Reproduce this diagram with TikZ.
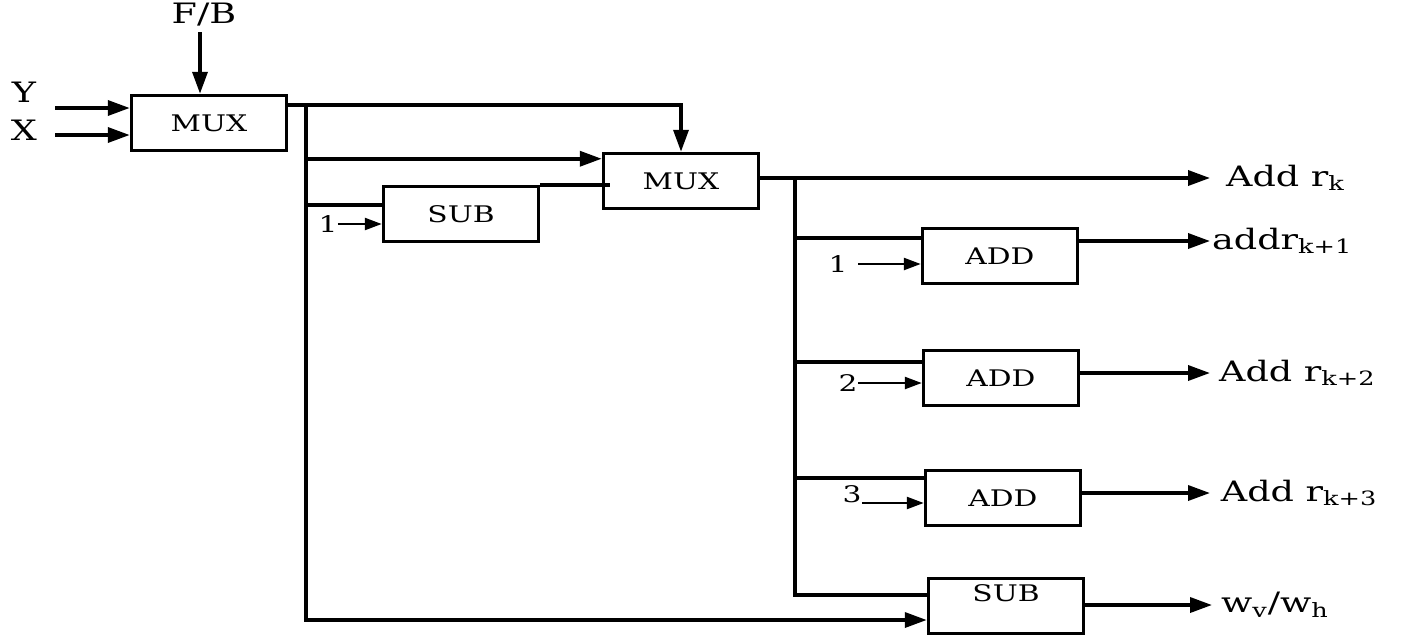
\documentclass[tikz,border=0pt]{standalone}
\usepackage{fontspec}
\setmainfont[FakeStretch=1.3]{DejaVu Serif}
\usetikzlibrary{arrows.meta, positioning, calc}

\begin{document}
\begin{tikzpicture}[
  x=0.02cm, y=-0.02cm,
  block/.style={rectangle, draw, line width=2pt, minimum width=3.1cm, minimum height=1.1cm, inner sep=0pt, font=\fontsize{13}{15}\selectfont},
  sig/.style={inner sep=0pt, font=\fontsize{16}{18}\selectfont},
  num/.style={inner sep=0pt, font=\fontsize{13}{15}\selectfont},
  outlbl/.style={sig, anchor=west},
  wire/.style={line width=2pt},
  >={Triangle[length=0.44cm, width=0.3cm]},
  small/.style={line width=1.4pt, -{Triangle[length=0.34cm, width=0.24cm]}}
]
\useasboundingbox (0,0) rectangle (1405,643);

% blocks
\node[block] (Mux1) at (209,123) {MUX};
\node[block] (Mux2) at (681,181) {MUX};
\node[block] (Sub1) at (461,214) {SUB};
\node[block] (Add1) at (1000,256) {ADD};
\node[block] (Add2) at (1001,378) {ADD};
\node[block] (Add3) at (1003,498) {ADD};
\node[block, align=center] (Sub2) at (1006,606) {SUB\\ \mbox{}};

% inputs of the first MUX
\node[sig] (FB) at (204,15) {F/B};
\node[sig] (Y) at (24,92) {Y};
\node[sig] (X) at (24,130) {X};
\coordinate (FBin) at (200,32);
\coordinate (Yin) at (55,108);
\coordinate (Xin) at (55,135);
\draw[wire,->] (FBin) -- (FBin |- Mux1.north);
\draw[wire,->] (Yin) -- (Yin -| Mux1.west);
\draw[wire,->] (Xin) -- (Xin -| Mux1.west);

% first bus
\coordinate (Bus1) at (306,105);
\coordinate (Mux2in) at ($(Mux2.north west)+(0,7)$);
\coordinate (Sub1in) at ($(Sub1.west)+(0,-9)$);
\draw[wire,->] (Mux1.east |- Bus1) -| (Mux2.north);
\draw[wire,->] (Bus1) |- ($(Sub2.west)+(0,14)$);
\draw[wire,->] (Bus1 |- Mux2in) -- (Mux2in);
\draw[wire] (Bus1 |- Sub1in) -- (Sub1in);
\node[num] (One) at (328,224) {1};
\draw[small] (One.east) -- (One.east -| Sub1.west);
\draw[wire] (Sub1.north east) -- ($(Sub1.north east -| Mux2.west)+(8,0)$);

% outputs
\node[outlbl, inner xsep=9pt] (Rk) at (1210,178) {Add r\textsubscript{k}};
\node[outlbl, inner xsep=1pt] (Rk1) at (1210,241) {addr\textsubscript{k+1}};
\node[outlbl, inner xsep=5pt] (Rk2) at (1210,373) {Add r\textsubscript{k+2}};
\node[outlbl, inner xsep=6pt] (Rk3) at (1210,493) {Add r\textsubscript{k+3}};
\node[outlbl, inner xsep=5pt] (W) at (1212,605) {w\textsubscript{v}/w\textsubscript{h}};
\draw[wire,->] (Rk.west -| Mux2.east) -- (Rk.west);
\draw[wire,->] (Rk1.west -| Add1.east) -- (Rk1.west);
\draw[wire,->] (Rk2.west -| Add2.east) -- (Rk2.west);
\draw[wire,->] (Rk3.west -| Add3.east) -- (Rk3.west);
\draw[wire,->] (W.west -| Sub2.east) -- (W.west);

% second bus
\coordinate (Bus2) at (795,178);
\coordinate (Add1in) at ($(Add1.west)+(0,-18)$);
\coordinate (Add2in) at ($(Add2.west)+(0,-16)$);
\coordinate (Add3in) at ($(Add3.west)+(0,-20)$);
\draw[wire] (Bus2) |- ($(Sub2.west)+(0,-11)$);
\draw[wire] (Bus2 |- Add1in) -- (Add1in);
\draw[wire] (Bus2 |- Add2in) -- (Add2in);
\draw[wire] (Bus2 |- Add3in) -- (Add3in);

\node[num] (In1) at (838,264) {1};
\node[num] (In2) at (848,383) {2};
\node[num] (In3) at (852,494) {3};
\draw[small, shorten <=6pt] (In1.east) -- (In1.east -| Add1.west);
\draw[small] (In2.east) -- (In2.east -| Add2.west);
\draw[small] (In3.south east) -- (In3.south east -| Add3.west);
\end{tikzpicture}
\end{document}
